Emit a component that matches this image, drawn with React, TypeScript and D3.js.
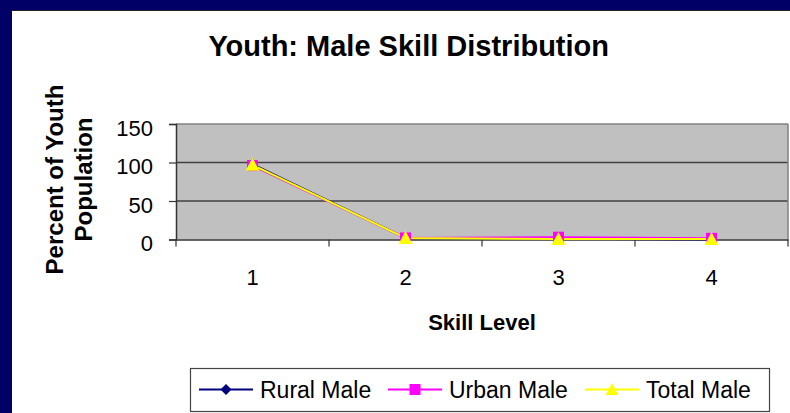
import React, { useRef, useEffect } from 'react';
import * as d3 from 'd3';

const categories = ['1', '2', '3', '4'];
const ruralMale = [98, 2, 1, 0];
const urbanMale = [96, 2, 3, 1.5];
const totalMale = [97, 2, 0.5, 0.5];
const yTicks = [0, 50, 100, 150];

const seriesList = [
  { name: 'Rural Male', values: ruralMale, color: '#000080', marker: 'diamond' },
  { name: 'Urban Male', values: urbanMale, color: '#FF00FF', marker: 'square' },
  { name: 'Total Male', values: totalMale, color: '#FFFF00', marker: 'triangle' },
];

const App: React.FC = () => {
  const svgRef = useRef<SVGSVGElement>(null);

  useEffect(() => {
    if (!svgRef.current) return;
    const W = 790;
    const H = 413;
    const plot = { left: 176, right: 788, top: 124, bottom: 239.5 };
    const font = 'Arial, "Liberation Sans", sans-serif';

    d3.select(svgRef.current).selectAll('*').remove();
    const svg = d3.select(svgRef.current).attr('width', W).attr('height', H);

    // fond et bordure bleue
    svg.append('rect').attr('width', W).attr('height', H).attr('fill', '#ffffff');
    svg.append('rect').attr('width', W).attr('height', 10).attr('fill', '#000066');
    svg.append('rect').attr('width', 12).attr('height', H).attr('fill', '#000066');
    svg.append('line').attr('x1', 12).attr('x2', W).attr('y1', 10.5).attr('y2', 10.5)
      .attr('stroke', '#222').attr('stroke-width', 1);

    // Escalas
    const x = d3.scaleBand().domain(categories).range([plot.left, plot.right]);
    const y = d3.scaleLinear().domain([0, 150]).range([plot.bottom, plot.top]);
    const cx = (c: string) => (x(c) as number) + x.bandwidth() / 2;

    // titre
    svg.append('text')
      .attr('x', 408.7).attr('y', 55.7)
      .attr('text-anchor', 'middle')
      .style('font-family', font).style('font-weight', 'bold').style('font-size', '29px')
      .text('Youth: Male Skill Distribution');

    // zone de tracé
    svg.append('rect')
      .attr('x', plot.left).attr('y', plot.top)
      .attr('width', plot.right - plot.left).attr('height', plot.bottom - plot.top)
      .attr('fill', '#C0C0C0');

    // grille
    svg.selectAll('.grid')
      .data(yTicks.filter(t => t > 0 && t < 150))
      .enter()
      .append('line')
      .attr('x1', plot.left).attr('x2', plot.right)
      .attr('y1', d => y(d)).attr('y2', d => y(d))
      .attr('stroke', '#404040').attr('stroke-width', 1.5);

    svg.append('line')
      .attr('x1', plot.left).attr('x2', plot.right)
      .attr('y1', y(150)).attr('y2', y(150))
      .attr('stroke', '#808080').attr('stroke-width', 1.5);
    svg.append('line')
      .attr('x1', plot.right).attr('x2', plot.right)
      .attr('y1', plot.top).attr('y2', plot.bottom)
      .attr('stroke', '#808080').attr('stroke-width', 1.5);

    // eixos
    const yAxis = svg.append('g')
      .attr('transform', `translate(${plot.left},0)`)
      .call(d3.axisLeft(y).tickValues(yTicks).tickSize(7).tickPadding(16));
    yAxis.select('.domain').attr('stroke', '#333').attr('stroke-width', 1.5);
    yAxis.selectAll('.tick line').attr('stroke', '#333').attr('stroke-width', 1.2);
    yAxis.selectAll('.tick text')
      .attr('dy', '0.52em')
      .style('font-family', font).style('font-size', '22px').attr('fill', '#000');

    const xAxis = svg.append('g')
      .attr('transform', `translate(0,${plot.bottom})`)
      .call(d3.axisBottom(x).tickSize(0).tickPadding(30));
    xAxis.select('.domain').attr('stroke', '#333').attr('stroke-width', 1.5);
    xAxis.selectAll('.tick text')
      .attr('dy', '0.71em')
      .style('font-family', font).style('font-size', '22px').attr('fill', '#000');

    const bounds = categories.map(c => x(c) as number).concat([plot.right]);
    svg.selectAll('.xtick')
      .data(bounds)
      .enter()
      .append('line')
      .attr('x1', d => d).attr('x2', d => d)
      .attr('y1', plot.bottom).attr('y2', plot.bottom + 7)
      .attr('stroke', '#333').attr('stroke-width', 1.2);

    svg.append('text')
      .attr('x', (plot.left + plot.right) / 2).attr('y', 330)
      .attr('text-anchor', 'middle')
      .style('font-family', font).style('font-weight', 'bold').style('font-size', '22px')
      .text('Skill Level');

    const yTitle = svg.append('text')
      .attr('transform', 'translate(63,179.5) rotate(-90)')
      .attr('text-anchor', 'middle')
      .style('font-family', font).style('font-weight', 'bold').style('font-size', '24px');
    yTitle.append('tspan').attr('x', 0).attr('y', 0).text('Percent of Youth');
    yTitle.append('tspan').attr('x', 0).attr('y', 29).text('Population');

    const drawMarker = (g: d3.Selection<any, any, any, any>, kind: string, color: string, px: number, py: number, s: number) => {
      if (kind === 'diamond') {
        g.append('path')
          .attr('d', `M${px},${py - s}L${px + s},${py}L${px},${py + s}L${px - s},${py}Z`)
          .attr('fill', color);
      } else if (kind === 'square') {
        g.append('rect')
          .attr('x', px - s).attr('y', py - s).attr('width', 2 * s).attr('height', 2 * s)
          .attr('fill', color);
      } else {
        g.append('path')
          .attr('d', `M${px},${py - s * 1.2}L${px + s * 1.15},${py + s}L${px - s * 1.15},${py + s}Z`)
          .attr('fill', color);
      }
    };

    // séries
    const line = d3.line<number>()
      .x((_, i) => cx(categories[i]))
      .y(d => y(d));

    seriesList.forEach(s => {
      svg.append('path')
        .datum(s.values)
        .attr('fill', 'none')
        .attr('stroke', s.color)
        .attr('stroke-width', 2)
        .attr('d', line);
    });
    seriesList.forEach(s => {
      const g = svg.append('g');
      s.values.forEach((v, i) => {
        const size = s.marker === 'triangle' ? 6 : 5.5;
        drawMarker(g, s.marker, s.color, cx(categories[i]), y(v), size);
      });
    });

    // legenda
    const legend = svg.append('g');
    legend.append('rect')
      .attr('x', 190.5).attr('y', 368.5).attr('width', 579).attr('height', 43)
      .attr('fill', '#fff').attr('stroke', '#444').attr('stroke-width', 1.2);

    const legendX = [199, 388, 585];
    seriesList.forEach((s, i) => {
      const lx = legendX[i];
      const ly = 389.5;
      legend.append('line')
        .attr('x1', lx).attr('x2', lx + 54).attr('y1', ly).attr('y2', ly)
        .attr('stroke', s.color).attr('stroke-width', 2);
      drawMarker(legend, s.marker, s.color, lx + 27, ly, 5.5);
      legend.append('text')
        .attr('x', lx + 61).attr('y', ly + 8.5)
        .style('font-family', font).style('font-size', '23px')
        .text(s.name);
    });
  }, []);

  return <svg ref={svgRef} style={{ position: 'absolute', left: 0, top: 0, display: 'block' }} />;
};

export default App;
